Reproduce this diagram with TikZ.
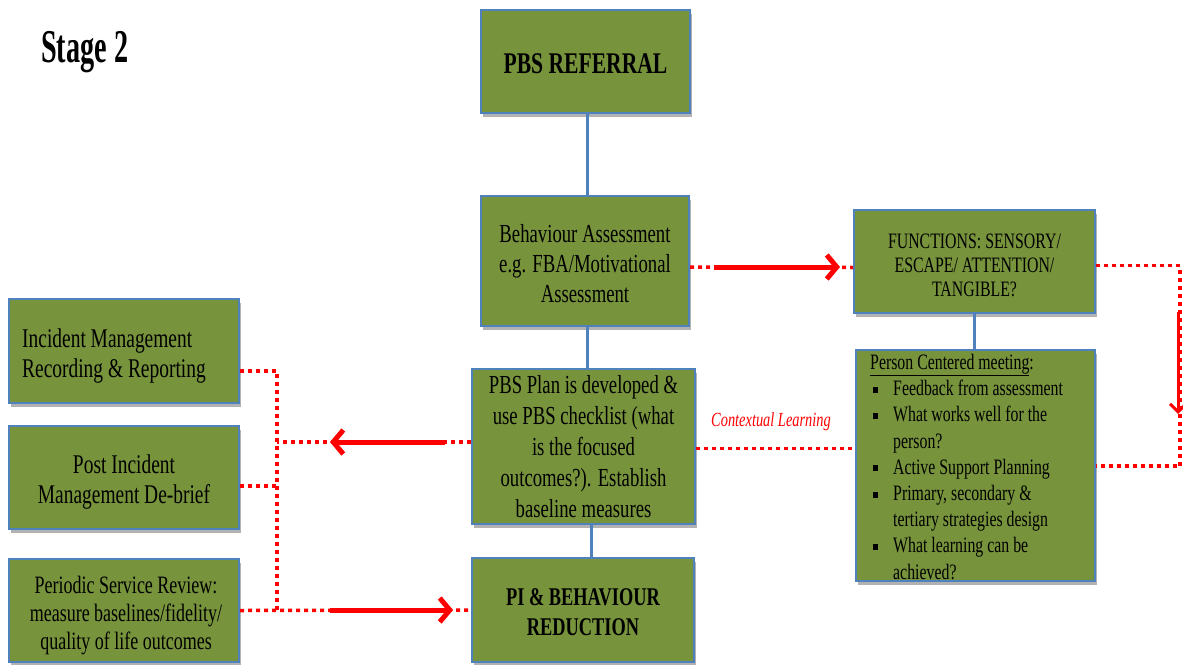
\documentclass[tikz,border=0pt]{standalone}
\usepackage{fontspec}
\setmainfont[FakeStretch=0.72]{Liberation Serif}
\newfontfamily\stagefont[FakeStretch=0.6]{Liberation Serif}
\usetikzlibrary{arrows.meta,shadows,calc}
\definecolor{boxgreen}{RGB}{119,147,60}
\definecolor{boxblue}{RGB}{79,129,189}
\definecolor{lred}{RGB}{255,0,0}
\tikzset{
 box/.style={draw=boxblue, line width=2pt, fill=boxgreen,
   drop shadow={shadow xshift=2pt, shadow yshift=-4pt, opacity=0.3, fill=black},
   inner sep=0pt},
 txt/.style={align=center, inner sep=0pt, text=black},
 vlink/.style={draw=boxblue, line width=3pt},
 dotlink/.style={draw=lred, line width=3.5pt, dash pattern=on 4pt off 4pt},
 redarrow/.style={draw=lred, line width=5pt, -{Straight Barb[length=10pt,width=24pt]}},
}
\newcommand{\sqbul}{\hspace*{3pt}\raisebox{3pt}{\rule{5pt}{6pt}}}
\begin{document}
\begin{tikzpicture}[x=1pt,y=-1pt]
\useasboundingbox (0,0) rectangle (1183,664);

\node[font=\stagefont\bfseries\fontsize{47}{50}\selectfont, anchor=base west, inner sep=0pt] (stage) at (41,62) {Stage 2};

% boxes
\node[box, minimum width=209pt, minimum height=103pt] (ref) at (585.5,61.5) {};
\node[box, minimum width=208pt, minimum height=130pt] (ba) at (585,261) {};
\node[box, minimum width=223pt, minimum height=155pt] (plan) at (583.5,446.5) {};
\node[box, minimum width=222pt, minimum height=104pt] (pi) at (583,610) {};
\node[box, minimum width=241pt, minimum height=103pt] (fn) at (974.5,261.5) {};
\node[box, minimum width=239pt, minimum height=231pt] (pcm) at (975.5,465.5) {};
\node[box, minimum width=230pt, minimum height=104pt] (im) at (124,351) {};
\node[box, minimum width=230pt, minimum height=103pt] (post) at (124,477.5) {};
\node[box, minimum width=230pt, minimum height=103pt] (psr) at (124,610.5) {};

% texts
\node[txt, font=\fontsize{30}{34}\selectfont\bfseries] (reft) at ([yshift=-2pt]ref.center) {PBS REFERRAL};
\node[txt, font=\fontsize{26}{30}\selectfont] (bat) at ([yshift=-3pt]ba.center)
  {Behaviour Assessment\\e.g. FBA/Motivational\\Assessment};
\node[txt, font=\fontsize{26}{31}\selectfont] (plant) at (plan.center)
  {PBS Plan is developed \&\\use PBS checklist (what\\is the focused\\outcomes?). Establish\\baseline measures};
\node[txt, font=\fontsize{25.5}{30}\selectfont\bfseries] (pit) at ([yshift=-2pt]pi.center)
  {PI \& BEHAVIOUR\\REDUCTION};
\node[txt, font=\fontsize{22}{24}\selectfont] (fnt) at ([yshift=-4pt]fn.center)
  {FUNCTIONS: SENSORY/\\ESCAPE/ ATTENTION/\\TANGIBLE?};
\node[anchor=north west, inner sep=0pt, align=left, font=\fontsize{22}{26.2}\selectfont] (pcmt) at (870,351)
  {\begin{tabular}{@{}p{23pt}@{}l@{}}
   \multicolumn{2}{@{}l@{}}{\underline{Person Centered meeting}:}\\
   \sqbul & Feedback from assessment\\
   \sqbul & What works well for the\\
          & person?\\
   \sqbul & Active Support Planning\\
   \sqbul & Primary, secondary \&\\
          & tertiary strategies design\\
   \sqbul & What learning can be\\
          & achieved?
   \end{tabular}};
\node[txt, align=left, anchor=west, font=\fontsize{27}{30}\selectfont] (imt) at ([xshift=14pt,yshift=-5pt]im.west)
  {Incident Management\\Recording \& Reporting};
\node[txt, font=\fontsize{27}{30}\selectfont] (postt) at ([yshift=-5pt]post.center)
  {Post Incident\\Management De-brief};
\node[txt, font=\fontsize{25}{28}\selectfont] (psrt) at ([xshift=2pt,yshift=-5pt]psr.center)
  {Periodic Service Review:\\measure baselines/fidelity/\\quality of life outcomes};

% blue connectors
\draw[vlink] ([xshift=1.5pt]ref.south) -- ([xshift=2pt]ba.north);
\draw[vlink] ([xshift=2pt]ba.south) -- ([xshift=3.5pt]plan.north);
\draw[vlink] ([xshift=7.5pt]plan.south) -- ([xshift=8pt]pi.north);
\draw[vlink] (fn.south) -- (fn.south |- pcm.north);

% coordinates
\coordinate (rtop) at (1180,265.5);
\coordinate (rbot) at (1180,466);
\coordinate (bustop) at (277,371);
\coordinate (buspost) at (277,486);
\coordinate (busplan) at (277,442);
\coordinate (busbot) at (277,610);
\coordinate (a1s) at (714,267);
\coordinate (a1e) at (840,267);
\coordinate (a2s) at (1178,312);
\coordinate (a2e) at (1178,414);
\coordinate (a3s) at (445,442);
\coordinate (a3e) at (330,442);
\coordinate (a4s) at (330,610);
\coordinate (a4e) at (453,610);

% red dotted connectors
\draw[dotlink] ([yshift=-6pt]ba.east) -- ([yshift=-6pt]fn.west);
\draw[dotlink] ([yshift=-4pt]fn.east) -- (rtop) -- (rbot) -- (rbot -| pcm.east);
\draw[dotlink] ([yshift=-2pt]plan.east) -- ([yshift=-2pt]plan.east -| pcm.west);
\draw[dotlink] ([yshift=-20pt]im.east) -- (bustop) -- (busbot);
\draw[dotlink] ([yshift=-8.5pt]post.east) -- (buspost);
\draw[dotlink] ([yshift=4.5pt]plan.west) -- (busplan);
\draw[dotlink] (psr.east) -- (pi.west);

% solid arrows
\draw[redarrow] (a1s) -- (a1e);
\draw[redarrow, line width=3pt, -{Straight Barb[length=8pt,width=16pt]}] (a2s) -- (a2e);
\draw[redarrow] (a3s) -- (a3e);
\draw[redarrow] (a4s) -- (a4e);

\node[text=lred, font=\itshape\fontsize{20}{22}\selectfont] (cl) at (771,422) {Contextual Learning};
\end{tikzpicture}
\end{document}
